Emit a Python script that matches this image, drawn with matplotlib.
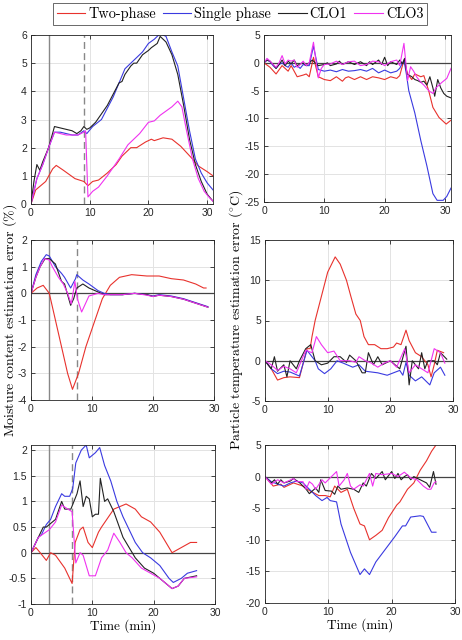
import matplotlib
matplotlib.use("Agg")
import matplotlib.pyplot as plt
from matplotlib.lines import Line2D
from matplotlib.ticker import FormatStrFormatter

plt.rcParams['mathtext.fontset'] = 'cm'
plt.rcParams['axes.unicode_minus'] = False
plt.rcParams['font.family'] = ['Liberation Sans', 'DejaVu Sans']

series_names = ['Two-phase', 'Single phase', 'CLO1', 'CLO3']
colors = ['#e8322d', '#3a3ae0', '#222222', '#f032f0']

# --- top-left: moisture, case 1
a_red_t = [0, 0.8, 2.5, 3.7, 4.3, 5.5, 7.5, 9, 9.7, 10.5, 11.5, 13, 14.5, 15.5, 17, 18, 19.5, 20.5, 21, 22.5, 24, 25.5, 27.5, 28.5, 30, 31]
a_red_y = [0, 0.5, 0.8, 1.25, 1.37, 1.2, 0.9, 0.8, 0.65, 0.8, 0.85, 1.1, 1.4, 1.7, 2.0, 2.0, 2.2, 2.3, 2.25, 2.35, 2.3, 2.05, 1.6, 1.35, 1.15, 1.0]
a_blue_t = [0, 1, 2, 3, 4, 5, 6, 7, 8, 9, 9.5, 10.5, 12, 13, 14, 15, 16, 17.5, 19, 20, 21, 22, 23, 24, 25, 26, 27, 28, 29, 30, 31]
a_blue_y = [0, 0.9, 1.4, 2.0, 2.55, 2.55, 2.5, 2.45, 2.45, 2.6, 2.5, 2.75, 3.0, 3.4, 3.8, 4.3, 4.8, 5.1, 5.4, 5.7, 5.85, 6.05, 5.95, 5.4, 4.9, 3.75, 2.6, 1.6, 1.1, 0.75, 0.5]
a_black_t = [0, 0.5, 1, 1.5, 2, 3, 4, 5, 6, 7, 7.8, 8.5, 9, 9.5, 10, 11, 12, 13, 14, 15, 15.5, 16, 17, 17.5, 18, 19, 20, 20.5, 21.5, 22, 23, 24, 25, 26, 27, 28, 29, 30, 31]
a_black_y = [0, 0.8, 1.4, 1.2, 1.5, 2.0, 2.75, 2.7, 2.65, 2.6, 2.5, 2.6, 2.75, 2.65, 2.7, 2.9, 3.2, 3.5, 3.9, 4.3, 4.35, 4.6, 4.9, 5.0, 5.0, 5.3, 5.45, 5.55, 5.7, 5.95, 5.75, 5.3, 4.6, 3.5, 2.3, 1.4, 0.8, 0.35, 0.1]
a_mag_t = [0, 1, 2, 3, 4, 5, 6, 7, 8, 9, 9.3, 9.7, 10.5, 11.5, 13, 15, 16.5, 17, 18.5, 20, 21, 22, 23, 24, 25, 25.7, 26.5, 27.5, 28.5, 29.5, 30.5, 31]
a_mag_y = [0, 0.9, 1.4, 2.0, 2.55, 2.5, 2.45, 2.45, 2.45, 2.55, 2.6, 0.25, 0.45, 0.6, 1.0, 1.6, 2.1, 2.2, 2.5, 2.9, 2.95, 3.15, 3.3, 3.45, 3.65, 3.45, 2.6, 1.6, 0.9, 0.45, 0.2, 0.1]

# --- top-right: temperature, case 1
b_red_t = [0, 1, 2, 3, 4, 4.5, 5.5, 6.5, 7, 7.5, 8.2, 9, 10, 11, 12, 13, 13.5, 14, 15, 16, 17, 18, 19, 20, 21, 22, 22.5, 23.2, 23.8, 24.5, 25, 26, 26.5, 27.3, 28, 29, 30.2, 31]
b_red_y = [0, -0.8, -2.0, -0.5, -1.5, -0.5, -2.5, -2.2, -2.0, -2.5, 1.0, -2.5, -3.0, -3.2, -2.5, -3.3, -2.7, -2.5, -3.0, -2.5, -3.0, -2.5, -2.7, -3.0, -2.5, -2.8, -2.3, 0.5, -2.0, -3.0, -2.0, -2.5, -2.3, -5.0, -8.0, -9.8, -11.0, -10.3]
b_blue_t = [0, 0.5, 1, 1.5, 2, 2.5, 3, 3.5, 4, 4.5, 5, 5.5, 6, 6.5, 7, 7.5, 8.2, 9, 10, 11, 12, 13, 14, 15, 16, 17, 18, 19, 20, 21, 22, 22.5, 23.2, 23.6, 24, 25, 26, 27, 28, 28.7, 29.7, 30.3, 31]
b_blue_y = [0, 0.5, 0.2, -0.5, -1, -0.3, 0, -0.5, -0.8, 0, -0.8, -0.5, -1, -0.3, -0.5, -0.5, 3.0, -1.2, -1.5, -1.3, -1.6, -1.2, -1.5, -1.4, -1.2, -1.5, -1.0, -1.8, -1.3, -1.8, -1.5, -1.0, 0.5, -2.0, -5.0, -9.0, -14.0, -18.5, -23.5, -24.7, -24.7, -24.0, -22.5]
b_black_t = [0, 0.5, 1, 1.5, 2, 2.5, 3, 3.5, 4, 4.5, 5, 5.5, 6, 6.5, 7, 7.5, 8, 8.2, 8.7, 9, 10, 10.5, 11, 12, 12.5, 13, 14, 15, 16, 17, 17.5, 18, 19, 19.5, 20, 20.5, 21, 22, 22.5, 23, 23.3, 23.7, 24.5, 25, 25.5, 26, 26.5, 27, 27.5, 28, 28.3, 28.8, 29.3, 29.8, 30.3, 31]
b_black_y = [0, 0.5, 0.3, -0.3, -1.0, -0.3, 0.5, -0.5, 0.3, -0.2, 0.5, -0.5, -0.2, 0, -0.5, 0, 0.5, 0.3, -0.2, -0.5, -0.3, 0, -0.5, -0.2, 0.3, -0.3, 0.2, -0.3, 0.2, -0.5, 0.2, -0.3, 0.5, -0.3, 1.0, -0.5, 0.2, -0.3, 0.5, -0.2, 0.8, -2.0, -2.5, -3.0, -3.2, -3.5, -3.3, -4.0, -2.5, -4.5, -6.0, -3.0, -4.5, -5.5, -6.0, -6.3]
b_mag_t = [0, 0.5, 1, 1.5, 2, 2.5, 3, 3.5, 4, 4.5, 5, 5.5, 6, 6.5, 7, 7.5, 8.2, 9, 9.5, 10, 11, 12, 13, 14, 15, 16, 17, 18, 19, 20, 21, 22, 22.5, 23.2, 23.8, 24.3, 24.8, 25.3, 26, 26.5, 27.3, 28, 28.5, 29.5, 30.3, 31]
b_mag_y = [0, 0.8, 0.3, -0.3, -0.8, 0, 1.3, -0.2, 0.5, 0.3, 0.5, -0.8, -0.3, 0.3, -0.5, 0, 3.7, -2.7, -1.0, -0.3, -0.2, 0.3, -0.3, 0.2, 0.3, -0.5, -0.3, 0.3, 0.2, -0.5, 0.2, 0.5, -0.5, 3.5, -3.2, -0.7, -1.5, -2.5, -3.5, -4.0, -5.0, -5.5, -4.5, -3.5, -2.8, -1.0]

# --- middle-left: moisture, case 2
c_red_t = [0, 1, 2, 3, 4, 5, 6, 6.8, 7.8, 9, 10.5, 11.7, 13, 14.5, 16.5, 19, 21, 23, 25, 27, 28.3, 28.7]
c_red_y = [0, 0.2, 0.3, 0.0, -1.0, -2.0, -3.0, -3.6, -3.0, -2.0, -1.0, -0.2, 0.3, 0.6, 0.7, 0.65, 0.65, 0.55, 0.5, 0.35, 0.2, 0.2]
c_blue_t = [0, 0.8, 1.7, 2.5, 3, 4, 5, 5.5, 6.5, 7.3, 7.5, 8.5, 9.5, 11, 12, 13, 15, 17, 19, 20, 21, 23, 25, 27, 29]
c_blue_y = [0, 0.7, 1.2, 1.45, 1.4, 1.0, 0.75, 0.6, 0.2, 0.55, 0.7, 0.5, 0.35, 0.1, 0, -0.05, -0.05, 0, -0.05, -0.1, -0.05, -0.1, -0.2, -0.35, -0.5]
c_black_t = [0, 0.8, 1.5, 2.3, 3, 4, 5, 5.5, 6.5, 7, 7.5, 8.5, 9.5, 11, 12, 13, 15, 17, 19, 20, 21, 23, 25, 27, 29]
c_black_y = [0, 0.6, 1.0, 1.3, 1.3, 1.1, 0.45, 0.35, -0.45, -0.2, 0.2, 0.35, 0.2, 0.05, -0.05, -0.05, -0.05, 0, -0.05, -0.12, -0.07, -0.12, -0.22, -0.37, -0.52]
c_mag_t = [0, 0.8, 1.5, 2.2, 3, 3.5, 4.5, 5.3, 6, 6.6, 7.2, 7.6, 8.3, 9.5, 11, 12, 13, 15, 17, 19, 20, 21, 23, 25, 27, 29]
c_mag_y = [0, 0.6, 1.0, 1.3, 1.25, 1.0, 0.6, 0.35, 0.0, -0.4, 0.45, -0.2, -0.7, -0.1, 0, -0.05, -0.05, -0.05, 0, -0.07, -0.12, -0.07, -0.12, -0.22, -0.37, -0.52]

# --- middle-right: temperature, case 2
d_red_t = [0, 1, 2, 3, 4, 5.5, 6.7, 7.2, 7.5, 8, 9, 10, 11.2, 12, 13, 13.7, 14.5, 15.2, 15.8, 16.5, 17.5, 18.5, 19.5, 20.5, 21, 21.7, 22.5, 23, 24, 25, 26, 26.5, 27, 27.5, 28.5]
d_red_y = [0, -1, -2.4, -2.1, -2.0, -2.1, 1.5, 1.5, 3.0, 5.0, 8.0, 11.0, 12.9, 12.0, 10.0, 8.0, 5.8, 5.0, 3.0, 2.0, 2.0, 1.5, 1.5, 1.7, 2.2, 2.0, 3.8, 2.5, 1.0, 0.5, -0.5, -2.0, -0.5, 1.3, 1.0]
d_blue_t = [0, 1, 2, 3, 4, 5.5, 6.7, 8, 8.5, 9.5, 10.5, 11.5, 12.5, 14, 15, 16, 18, 19.5, 20.5, 21.5, 22, 22.5, 23, 24, 25, 26.3, 27, 28, 28.7]
d_blue_y = [0, -1, -1.6, -1.3, -1.4, -1.9, 1.3, 0, -1.0, -1.6, -1.0, 0, -0.3, -0.8, -0.5, -1.3, -1.5, -1.8, -1.5, -1.2, -1.8, -0.2, -1.8, -2.5, -2.0, -3.0, -1.5, -0.8, -1.8]
d_black_t = [0, 1, 1.5, 2, 3, 3.5, 4, 5, 5.5, 6.5, 7.3, 8, 9, 10, 11, 12, 13, 13.5, 14.5, 15.5, 16, 16.5, 17.3, 18, 18.7, 20, 21.5, 22.5, 23, 23.5, 24.5, 25, 25.5, 26, 27, 27.5, 28, 29]
d_black_y = [0, -1, 0.5, -1.3, -0.5, -2.0, 0, -1.0, 0, 1.5, 2.0, 0, -0.5, -0.3, 0.5, 0.5, -0.2, 0.7, 0, -1.5, -1.5, 1.0, -0.5, 0.5, -0.5, 0, -1.0, 1.8, -3.0, 0, -1.0, 1.0, -1.0, 0, 0, -0.5, 1.0, 0.2]
d_mag_t = [0, 1, 2, 3, 4, 5, 6.5, 7.5, 8.2, 9, 10, 11, 12, 13.5, 14.5, 15, 16, 17, 18, 19, 20, 21, 22.3, 23, 24, 25, 26, 27, 28, 28.7]
d_mag_y = [0, -0.5, -1.2, -0.7, -1.0, -1.5, 1.3, 1.0, 3.0, 2.0, 1.0, 1.2, 0, 0, -0.2, 0.5, 0, -0.3, -0.8, -0.3, 0, -0.8, 1.5, -1.5, -0.5, -1.0, -1.5, 1.5, 1.0, -0.3]

# --- bottom-left: moisture, case 3
e_red_t = [0, 0.8, 1.5, 2.5, 3.2, 4, 5.5, 6.7, 7.2, 8, 8.5, 9.3, 10, 11, 11.5, 13.5, 15.5, 17, 18, 19.5, 21, 22.5, 23, 24.5, 26, 27]
e_red_y = [0, 0.1, 0, -0.15, 0, -0.05, -0.3, -0.6, 0.2, 0.45, 0.5, 0.2, 0.1, 0.4, 0.5, 0.85, 0.95, 0.85, 0.7, 0.6, 0.4, 0.1, 0.0, 0.1, 0.2, 0.2]
e_blue_t = [0, 1.2, 1.7, 2.5, 3.2, 4, 5, 5.5, 6.3, 6.8, 7.3, 8.2, 9, 9.5, 10.5, 11.2, 12, 13, 14, 15, 16, 17, 18.2, 19.5, 21, 22.5, 23.2, 24.5, 25.5, 27]
e_blue_y = [0, 0.3, 0.35, 0.55, 0.65, 0.9, 1.15, 1.1, 1.1, 1.25, 1.75, 2.0, 2.1, 1.85, 1.95, 2.05, 1.7, 1.4, 1.0, 0.7, 0.45, 0.2, 0, -0.1, -0.25, -0.5, -0.58, -0.5, -0.4, -0.35]
e_black_t = [0, 1.2, 2, 2.5, 3, 4, 5, 5.5, 6.5, 7, 7.5, 8, 8.5, 9, 9.5, 10, 10.5, 11, 11.3, 12, 12.5, 13.5, 15, 16, 17, 18.5, 20, 21.5, 23, 24, 25, 27]
e_black_y = [0, 0.3, 0.5, 0.5, 0.55, 0.65, 1.0, 0.85, 0.85, 1.0, 1.15, 1.4, 0.9, 1.1, 1.05, 0.7, 0.75, 0.75, 1.45, 1.0, 1.05, 0.8, 0.3, 0.1, -0.1, -0.3, -0.4, -0.55, -0.7, -0.65, -0.5, -0.45]
e_mag_t = [0, 1.2, 3, 4, 5, 6, 6.7, 7.3, 8, 8.5, 9.5, 10.5, 11.5, 12.5, 13.5, 14.5, 15.5, 16.5, 18, 19.5, 21, 23, 24, 25, 27]
e_mag_y = [0, 0.3, 0.45, 0.6, 0.93, 0.85, 0.8, -0.2, 0, -0.05, -0.45, -0.45, -0.1, 0.05, 0.38, 0.2, 0, -0.1, -0.3, -0.4, -0.5, -0.7, -0.65, -0.5, -0.47]

# --- bottom-right: temperature, case 3
f_red_t = [0, 1.3, 2.5, 3, 4.5, 6, 7, 8.5, 9.5, 10.3, 11, 12, 13, 14, 15, 15.7, 16.5, 17.5, 18.5, 19.5, 20.8, 21.3, 22.5, 23.5, 24.5, 25.5, 26.3, 27]
f_red_y = [0, -1.5, -1.2, -1.7, -1.0, -1.5, -2.2, -3.0, -3.0, -3.2, -1.5, -2.5, -2.0, -5.0, -7.5, -7.8, -10.0, -9.3, -8.5, -6.5, -4.5, -4.0, -2.0, -1.0, 1.0, 2.5, 4.0, 5.0]
f_blue_t = [0, 1, 2, 3, 4, 5, 6, 7, 8, 9, 9.8, 10.3, 11.3, 12, 13.5, 15, 15.7, 16.5, 17.5, 19, 20.5, 21.7, 22.2, 23, 24.5, 25, 26.3, 27]
f_blue_y = [0, -0.8, -1.2, -1.5, -1.0, -0.7, -1.0, -2.0, -3.0, -3.8, -3.3, -3.8, -4.0, -7.5, -12.0, -15.5, -14.6, -15.5, -13.5, -11.5, -9.5, -7.8, -7.8, -6.4, -6.2, -6.3, -8.8, -8.8]
f_black_t = [0, 1, 1.5, 2, 2.5, 3, 4, 4.5, 5.5, 6.5, 7, 8, 8.5, 8.8, 9.5, 10.5, 11, 11.5, 12, 13, 14, 14.8, 15.5, 16, 16.8, 17.5, 18.5, 19, 20, 20.5, 21, 21.5, 22, 22.5, 23, 23.5, 24.5, 25.5, 26, 26.6, 27]
f_black_y = [0, -1, -0.5, -1.2, -0.5, -1.0, -0.7, -0.3, -1.0, -2.0, -2.7, -1.8, -2.5, -0.5, -2.2, -2.3, -2.8, -1.5, -2.0, -1.8, -2.0, -2.5, -1.0, -1.5, 0.5, -0.3, 0.8, -0.5, 0.8, -0.3, 0.5, -0.5, 0, 0.3, -0.5, 0, -0.5, -1.0, -1.7, 0.8, -1.2]
f_mag_t = [0, 1, 2, 3, 4.5, 5, 6, 6.5, 7, 7.5, 8, 9, 9.5, 11.3, 11.7, 12.5, 13, 13.5, 14, 15, 15.5, 16.5, 17, 17.5, 18.5, 20, 21, 22, 23, 24, 25, 25.7, 26.2, 26.7, 27]
f_mag_y = [0, -1.2, -0.5, -1.0, -0.3, -0.8, -0.8, -2.0, -0.8, -1.2, -2.0, -0.5, -1.0, 0.8, -1.5, -0.5, 0.5, -1.5, -2.0, -1.3, -1.5, 0.5, -1.5, 0.5, 0.3, 0.5, 0, 0.7, -0.2, -0.5, -1.5, -2.0, -2.0, -1.0, -0.8]

# vertical markers (min): solid, dashed
vlines = [(3, 9.0), (3, 7.5), (3, 6.7)]

W, H = 462, 640
fig = plt.figure(figsize=(W / 100, H / 100), dpi=100)

def box(l, t, r, b):
    return [l / W, 1 - b / H, (r - l) / W, (b - t) / H]

panels = [
    (box(31, 35, 213, 204), [(a_red_t, a_red_y), (a_blue_t, a_blue_y), (a_black_t, a_black_y), (a_mag_t, a_mag_y)],
     (0, 31), (0, 6), [0, 1, 2, 3, 4, 5, 6], vlines[0], False),
    (box(264, 35, 451, 202), [(b_red_t, b_red_y), (b_blue_t, b_blue_y), (b_black_t, b_black_y), (b_mag_t, b_mag_y)],
     (0, 31), (-25, 5), [-25, -20, -15, -10, -5, 0, 5], None, True),
    (box(31, 240, 214, 400), [(c_red_t, c_red_y), (c_blue_t, c_blue_y), (c_black_t, c_black_y), (c_mag_t, c_mag_y)],
     (0, 30), (-4, 2), [-4, -3, -2, -1, 0, 1, 2], vlines[1], True),
    (box(265, 240, 453, 401), [(d_red_t, d_red_y), (d_blue_t, d_blue_y), (d_black_t, d_black_y), (d_mag_t, d_mag_y)],
     (0, 30), (-5, 15), [-5, 0, 5, 10, 15], None, True),
    (box(31, 445, 215, 604), [(e_red_t, e_red_y), (e_blue_t, e_blue_y), (e_black_t, e_black_y), (e_mag_t, e_mag_y)],
     (0, 30), (-1, 2.1), [-1, -0.5, 0, 0.5, 1, 1.5, 2], vlines[2], True),
    (box(265, 445, 455, 603), [(f_red_t, f_red_y), (f_blue_t, f_blue_y), (f_black_t, f_black_y), (f_mag_t, f_mag_y)],
     (0, 30), (-20, 5), [-20, -15, -10, -5, 0, 5], None, True),
]

axes = []
for rect, data, xl, yl, yt, vl, zero in panels:
    ax = fig.add_axes(rect)
    ax.grid(True, color='#e3e3e3', linewidth=0.7)
    ax.set_axisbelow(True)
    if vl is not None:
        ax.axvline(vl[0], color='#888888', linewidth=1.0)
        ax.axvline(vl[1], color='#888888', linewidth=1.0, linestyle=(0, (5, 3)))
    if zero:
        ax.axhline(0, color='#444444', linewidth=0.9)
    for (t, y), c in zip(data, colors):
        ax.plot(t, y, color=c, linewidth=0.8)
    ax.set_xlim(*xl)
    ax.set_ylim(*yl)
    ax.set_xticks([0, 10, 20, 30])
    ax.set_yticks(yt)
    ax.yaxis.set_major_formatter(FormatStrFormatter('%g'))
    ax.tick_params(direction='in', top=True, right=True, length=3, width=0.6,
                   labelsize=7.5, colors='#262626', pad=3)
    for s in ax.spines.values():
        s.set_color('#262626')
        s.set_linewidth(0.6)
    axes.append(ax)

lab_font = dict(family='cmr10', fontsize=9.5)
axes[4].set_xlabel('Time (min)', **lab_font, labelpad=1)
axes[5].set_xlabel('Time (min)', **lab_font, labelpad=1)
ylab_font = dict(family='cmr10', fontsize=10)
fig.text(10 / W, 0.5, r'Moisture content estimation error $(\%)$', rotation=90,
         ha='center', va='center', **ylab_font)
fig.text(236 / W, 0.5, r'Particle temperature estimation error $(^{\circ}\mathrm{C})$', rotation=90,
         ha='center', va='center', **ylab_font)

handles = [Line2D([], [], color=c, linewidth=0.8) for c in colors]
leg = fig.legend(handles, series_names, loc='center', bbox_to_anchor=(240 / W, 1 - 14 / H),
                 ncol=4, frameon=True, fancybox=False, edgecolor='#262626',
                 prop={'family': 'cmr10', 'size': 10.3}, handlelength=2.0,
                 handletextpad=0.2, columnspacing=0.5, borderpad=0.25, borderaxespad=0)
leg.get_frame().set_linewidth(0.6)

fig.savefig('out.png', dpi=100)
